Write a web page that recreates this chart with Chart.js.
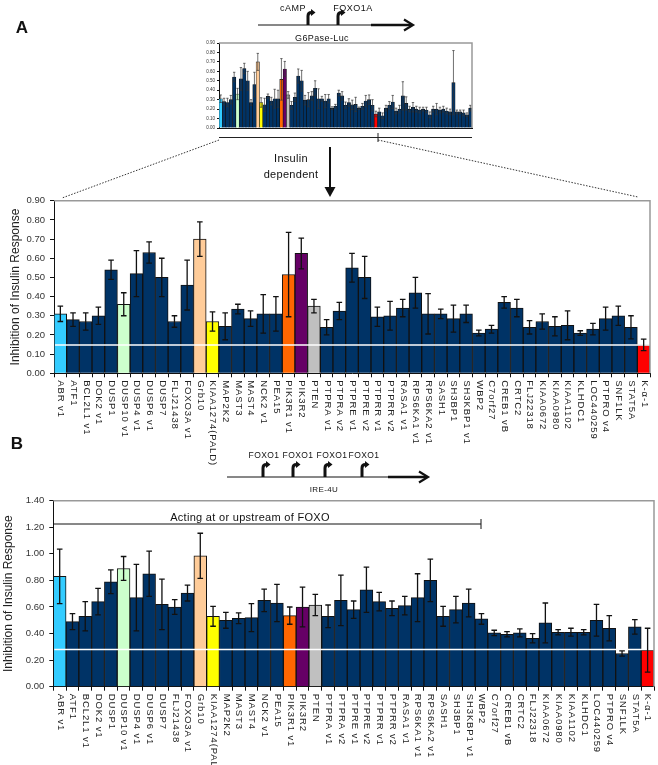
<!DOCTYPE html>
<html>
<head>
<meta charset="utf-8">
<script src="https://cdn.jsdelivr.net/npm/chart.js@4.4.1/dist/chart.umd.min.js"></script>
<style>
html, body { margin: 0; padding: 0; background: #fff; }
#page { position: relative; width: 658px; height: 765px; overflow: hidden; font-family: "Liberation Sans", Arial, sans-serif; }
canvas { position: absolute; }
#thumb { left: 190px; top: 33px; }
#chartA { left: 0; top: 190px; }
#chartB { left: 0; top: 490px; }
svg { position: absolute; left: 0; top: 0; }
svg text { font-family: "Liberation Sans", Arial, sans-serif; fill: #111; }
</style>
</head>
<body>
<div id="page">
<canvas id="thumb" width="290" height="100"></canvas>
<canvas id="chartA" width="658" height="285"></canvas>
<canvas id="chartB" width="658" height="275"></canvas>
<svg width="658" height="765">
  <!-- panel A header -->
  <text x="22" y="33" font-size="17" font-weight="bold" text-anchor="middle">A</text>
  <text x="293" y="11" font-size="9" letter-spacing="0.5" text-anchor="middle">cAMP</text>
  <text x="353" y="11" font-size="9" letter-spacing="0.5" text-anchor="middle">FOXO1A</text>
  <line x1="258" y1="25" x2="371" y2="25" stroke="#111" stroke-width="1"/>
  <line x1="371" y1="25" x2="412" y2="25" stroke="#111" stroke-width="2.5"/>
  <polyline points="404,19.5 413,25 404,30.5" fill="none" stroke="#111" stroke-width="2.2"/>
  <path d="M308,25 V16 Q308,12.5 311.5,12.5" fill="none" stroke="#111" stroke-width="3"/>
  <polygon points="311,9 311,16 315.5,12.5" fill="#111"/>
  <path d="M338,25 V16 Q338,12.5 341.5,12.5" fill="none" stroke="#111" stroke-width="3"/>
  <polygon points="341,9 341,16 345.5,12.5" fill="#111"/>
  <text x="322" y="41" font-size="9" letter-spacing="0.4" text-anchor="middle">G6Pase-Luc</text>
  <line x1="219" y1="137.5" x2="472" y2="137.5" stroke="#222" stroke-width="1"/>
  <line x1="378" y1="133" x2="378" y2="142" stroke="#222" stroke-width="1"/>
  <line x1="219" y1="140" x2="62" y2="198" stroke="#333" stroke-width="1" stroke-dasharray="1.5,1.5"/>
  <line x1="378" y1="140" x2="638" y2="197" stroke="#333" stroke-width="1" stroke-dasharray="1.5,1.5"/>
  <text x="291" y="162" font-size="11" letter-spacing="0.3" text-anchor="middle">Insulin</text>
  <text x="291" y="178" font-size="11" letter-spacing="0.3" text-anchor="middle">dependent</text>
  <line x1="330" y1="147" x2="330" y2="189" stroke="#111" stroke-width="2"/>
  <polygon points="324.5,187 335.5,187 330,197" fill="#111"/>

  <!-- panel B header -->
  <text x="17" y="449" font-size="17" font-weight="bold" text-anchor="middle">B</text>
  <text x="264" y="458" font-size="8.5" letter-spacing="0.4" text-anchor="middle">FOXO1</text>
  <text x="298" y="458" font-size="8.5" letter-spacing="0.4" text-anchor="middle">FOXO1</text>
  <text x="332" y="458" font-size="8.5" letter-spacing="0.4" text-anchor="middle">FOXO1</text>
  <text x="364" y="458" font-size="8.5" letter-spacing="0.4" text-anchor="middle">FOXO1</text>
  <line x1="227" y1="477" x2="388" y2="477" stroke="#111" stroke-width="1"/>
  <line x1="388" y1="477" x2="427" y2="477" stroke="#111" stroke-width="2.5"/>
  <polyline points="419,471.5 428,477 419,482.5" fill="none" stroke="#111" stroke-width="2.2"/>
  <path d="M263,477 V468 Q263,464.5 266.5,464.5" fill="none" stroke="#111" stroke-width="3"/>
  <polygon points="266,461 266,468 270.5,464.5" fill="#111"/>
  <path d="M293,477 V468 Q293,464.5 296.5,464.5" fill="none" stroke="#111" stroke-width="3"/>
  <polygon points="296,461 296,468 300.5,464.5" fill="#111"/>
  <path d="M325,477 V468 Q325,464.5 328.5,464.5" fill="none" stroke="#111" stroke-width="3"/>
  <polygon points="328,461 328,468 332.5,464.5" fill="#111"/>
  <path d="M362,477 V468 Q362,464.5 365.5,464.5" fill="none" stroke="#111" stroke-width="3"/>
  <polygon points="365,461 365,468 369.5,464.5" fill="#111"/>
  <text x="324" y="492" font-size="8" letter-spacing="0.4" text-anchor="middle">IRE-4U</text>
  <text x="250" y="521" font-size="11" letter-spacing="0.3" text-anchor="middle">Acting at or upstream of FOXO</text>
  <line x1="54" y1="524" x2="481" y2="524" stroke="#111" stroke-width="1"/>
  <line x1="481" y1="519" x2="481" y2="529" stroke="#111" stroke-width="1"/>
</svg>
</div>
<script>
// siRNA targets, same order in both screens
const genes = ['ABR v1', 'ATF1', 'BCL2L1 v1', 'DOK2 v1', 'DUSP1', 'DUSP10 v1', 'DUSP4 v1', 'DUSP6 v1', 'DUSP7',
  'FLJ21438', 'FOXO3A v1', 'Grb10', 'KIAA1274(PALD)', 'MAP2K2', 'MAST3', 'MAST4', 'NCK2 v1', 'PEA15',
  'PIK3R1 v1', 'PIK3R2', 'PTEN', 'PTPRA v1', 'PTPRA v2', 'PTPRE v1', 'PTPRE v2', 'PTPRR v1', 'PTPRR v2',
  'RASA1 v1', 'RPS6KA1 v1', 'RPS6KA2 v1', 'SASH1', 'SH3BP1', 'SH3KBP1 v1', 'WBP2', 'C7orf27', 'CREB1 vB',
  'CRTC2', 'FLJ22318', 'KIAA0672', 'KIAA0980', 'KIAA1102', 'KLHDC1', 'LOC440259', 'PTPRO v4', 'SNF1LK',
  'STAT5A', 'K-α-1'];

// A: G6Pase-Luc
const inhibG6Pase = [0.31, 0.28, 0.27, 0.30, 0.54, 0.36, 0.52, 0.63, 0.50, 0.27, 0.46, 0.70, 0.27, 0.245,
  0.335, 0.285, 0.31, 0.31, 0.515, 0.625, 0.35, 0.24, 0.325, 0.55, 0.50, 0.295, 0.30, 0.34, 0.42, 0.31,
  0.31, 0.285, 0.31, 0.21, 0.23, 0.37, 0.34, 0.24, 0.27, 0.245, 0.25, 0.21, 0.23, 0.285, 0.30, 0.24, 0.148];
const errG6Pase = [0.04, 0.035, 0.045, 0.045, 0.05, 0.06, 0.12, 0.055, 0.10, 0.03, 0.13, 0.09, 0.05, 0.07,
  0.025, 0.04, 0.10, 0.09, 0.22, 0.08, 0.035, 0.04, 0.045, 0.075, 0.11, 0.05, 0.075, 0.045, 0.08, 0.105,
  0.025, 0.07, 0.045, 0.015, 0.02, 0.03, 0.045, 0.035, 0.04, 0.05, 0.075, 0.012, 0.03, 0.06, 0.05, 0.06, 0.03];

// rest of the G6Pase screen (thumbnail only, not insulin dependent)
const screenRest = [0.17, 0.13, 0.21, 0.24, 0.275, 0.18, 0.20, 0.34, 0.26, 0.20, 0.22, 0.20, 0.19, 0.20,
  0.19, 0.14, 0.20, 0.20, 0.19, 0.20, 0.18, 0.17, 0.48, 0.17, 0.17, 0.16, 0.14, 0.21];
const screenRestErr = [0.04, 0.03, 0.03, 0.04, 0.07, 0.03, 0.04, 0.15, 0.07, 0.03, 0.05, 0.03, 0.03, 0.02,
  0.03, 0.03, 0.03, 0.06, 0.03, 0.03, 0.03, 0.03, 0.34, 0.02, 0.02, 0.03, 0.02, 0.03];

// B: IRE-4U
const inhibIRE = [0.83, 0.49, 0.53, 0.64, 0.79, 0.89, 0.67, 0.85, 0.62, 0.60, 0.705, 0.985, 0.53, 0.50,
  0.515, 0.52, 0.65, 0.63, 0.535, 0.60, 0.615, 0.53, 0.65, 0.58, 0.73, 0.64, 0.59, 0.61, 0.67, 0.80, 0.53,
  0.58, 0.63, 0.51, 0.405, 0.395, 0.405, 0.365, 0.48, 0.41, 0.41, 0.41, 0.50, 0.44, 0.25, 0.45, 0.275];
const errIRE = [0.205, 0.06, 0.11, 0.10, 0.09, 0.09, 0.25, 0.17, 0.19, 0.055, 0.06, 0.17, 0.075, 0.06,
  0.04, 0.105, 0.085, 0.14, 0.065, 0.15, 0.08, 0.085, 0.19, 0.065, 0.17, 0.07, 0.055, 0.07, 0.18, 0.16,
  0.075, 0.10, 0.105, 0.04, 0.02, 0.02, 0.03, 0.035, 0.15, 0.02, 0.03, 0.02, 0.12, 0.095, 0.02, 0.055, 0.165];

const FONT = '"Liberation Sans", Arial, sans-serif';
const navy = '#003366';
const highlight = {
  'ABR v1': '#33CCFF', 'DUSP10 v1': '#CCFFCC', 'Grb10': '#FFCC99', 'KIAA1274(PALD)': '#FFFF00',
  'PIK3R1 v1': '#FF6600', 'PIK3R2': '#660066', 'PTEN': '#C0C0C0', 'K-α-1': '#FF0000'
};
const barColors = genes.map(g => highlight[g] || navy);

// error bars from dataset.errors
const errorBars = {
  id: 'errorBars',
  afterDatasetsDraw(chart, args, opts) {
    const ctx = chart.ctx, ds = chart.data.datasets[0], y = chart.scales.y;
    ctx.save();
    ctx.strokeStyle = opts.color;
    ctx.lineWidth = opts.width;
    chart.getDatasetMeta(0).data.forEach((bar, i) => {
      const v = ds.data[i], e = ds.errors[i];
      const top = y.getPixelForValue(v + e), bot = y.getPixelForValue(Math.max(v - e, 0));
      ctx.beginPath();
      ctx.moveTo(bar.x, top); ctx.lineTo(bar.x, bot);
      ctx.moveTo(bar.x - opts.cap, top); ctx.lineTo(bar.x + opts.cap, top);
      ctx.moveTo(bar.x - opts.cap, bot); ctx.lineTo(bar.x + opts.cap, bot);
      ctx.stroke();
    });
    ctx.restore();
  }
};

// white line at the control (K-alpha-1) level
const refLine = {
  id: 'refLine',
  afterDatasetsDraw(chart, args, opts) {
    if (opts.value == null) return;
    const {ctx, chartArea} = chart;
    const yy = chart.scales.y.getPixelForValue(opts.value);
    ctx.save();
    ctx.strokeStyle = '#fff';
    ctx.lineWidth = 1.5;
    ctx.beginPath();
    ctx.moveTo(chartArea.left + 1, yy); ctx.lineTo(chartArea.right, yy);
    ctx.stroke();
    ctx.restore();
  }
};

// grey top/right frame
const frame = {
  id: 'frame',
  afterDraw(chart) {
    const {ctx, chartArea} = chart;
    ctx.save();
    ctx.strokeStyle = '#999';
    ctx.lineWidth = 1.5;
    ctx.beginPath();
    ctx.moveTo(chartArea.left, chartArea.top);
    ctx.lineTo(chartArea.right, chartArea.top);
    ctx.lineTo(chartArea.right, chartArea.bottom);
    ctx.stroke();
    ctx.restore();
  }
};

// category labels reading top to bottom
const rotLabels = {
  id: 'rotLabels',
  afterDraw(chart, args, opts) {
    if (!opts.show) return;
    const {ctx, chartArea} = chart, x = chart.scales.x;
    ctx.save();
    ctx.font = opts.size + 'px ' + FONT;
    ctx.fillStyle = '#222';
    ctx.textAlign = 'left';
    ctx.textBaseline = 'middle';
    if ('letterSpacing' in ctx) ctx.letterSpacing = opts.spacing + 'px';
    chart.data.labels.forEach((lab, i) => {
      ctx.save();
      ctx.translate(x.getPixelForValue(i) + 0.5, chartArea.bottom + opts.offset);
      ctx.rotate(Math.PI / 2);
      ctx.fillText(lab, 0, 0);
      ctx.restore();
    });
    ctx.restore();
  }
};

function barChart(id, cfg) {
  return new Chart(document.getElementById(id), {
    type: 'bar',
    data: {
      labels: cfg.labels,
      datasets: [{
        data: cfg.values,
        errors: cfg.errors,
        backgroundColor: cfg.colors,
        borderColor: '#111',
        borderWidth: cfg.border,
        barPercentage: 1,
        categoryPercentage: 1
      }]
    },
    options: {
      responsive: false,
      animation: false,
      events: [],
      layout: { padding: cfg.padding },
      plugins: {
        legend: { display: false },
        tooltip: { enabled: false },
        errorBars: cfg.err,
        refLine: { value: cfg.ref },
        rotLabels: { show: cfg.showLabels, size: 9.5, spacing: 0.9, offset: 7 }
      },
      scales: {
        x: {
          ticks: { display: false },
          grid: { drawOnChartArea: false, drawTicks: cfg.xTicks > 0, tickLength: cfg.xTicks, color: '#111' },
          border: { color: '#111', width: 1 },
          afterFit: s => { s.height = cfg.xTicks; }
        },
        y: {
          min: 0,
          max: cfg.yMax,
          ticks: {
            stepSize: cfg.step,
            autoSkip: false,
            callback: v => v.toFixed(2),
            font: { family: FONT, size: cfg.tickSize },
            color: '#333',
            padding: cfg.tickPad
          },
          grid: { drawOnChartArea: false, tickLength: cfg.yTick, color: '#111' },
          border: { color: '#111', width: 1 },
          title: {
            display: !!cfg.title,
            text: cfg.title,
            font: { family: FONT, size: 12 },
            color: '#222',
            padding: { top: cfg.titlePad, bottom: 0 }
          },
          afterFit: s => { s.width = cfg.yWidth; }
        }
      }
    },
    plugins: [refLine, errorBars, frame, rotLabels]
  });
}

// thumbnail of the whole G6Pase screen
barChart('thumb', {
  labels: genes.concat(screenRest.map(() => '')),
  values: inhibG6Pase.concat(screenRest),
  errors: errG6Pase.concat(screenRestErr),
  colors: barColors.concat(screenRest.map(() => navy)),
  border: 0.6,
  padding: { left: 0, right: 8, top: 10, bottom: 5 },
  err: { color: '#333', width: 0.7, cap: 1.2 },
  ref: null,
  showLabels: false,
  xTicks: 0,
  yMax: 0.9, step: 0.1, tickSize: 4.5, tickPad: 2, yTick: 2,
  title: '', titlePad: 0, yWidth: 29
});

barChart('chartA', {
  labels: genes,
  values: inhibG6Pase,
  errors: errG6Pase,
  colors: barColors,
  border: 1,
  padding: { left: 0, right: 8, top: 10.7, bottom: 97.7 },
  err: { color: '#111', width: 1.3, cap: 2.8 },
  ref: inhibG6Pase[inhibG6Pase.length - 1],
  showLabels: true,
  xTicks: 4,
  yMax: 0.9, step: 0.1, tickSize: 9.5, tickPad: 5, yTick: 4,
  title: 'Inhibition of Insulin Response', titlePad: 8, yWidth: 54
});

barChart('chartB', {
  labels: genes,
  values: inhibIRE,
  errors: errIRE,
  colors: barColors,
  border: 1,
  padding: { left: 0, right: 4, top: 10, bottom: 74.3 },
  err: { color: '#111', width: 1.3, cap: 2.8 },
  ref: 0.28,
  showLabels: true,
  xTicks: 4,
  yMax: 1.4, step: 0.2, tickSize: 9.5, tickPad: 5, yTick: 4,
  title: 'Inhibition of Insulin Response', titlePad: 1, yWidth: 53.3
});
</script>
</body>
</html>
